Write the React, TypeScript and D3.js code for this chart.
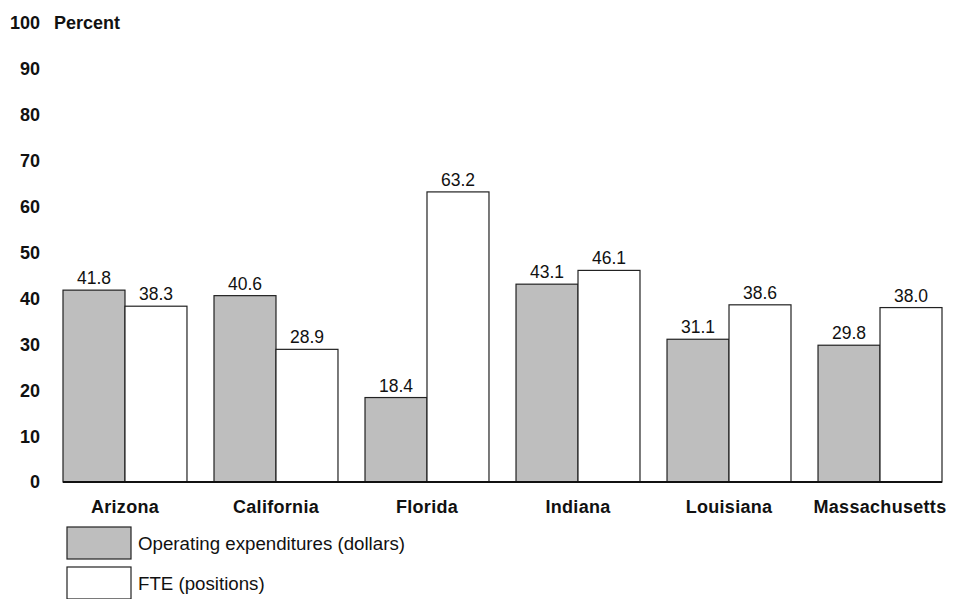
import React from "react";
import * as d3 from "d3";

const categories = ["Arizona", "California", "Florida", "Indiana", "Louisiana", "Massachusetts"];
const operating = [41.8, 40.6, 18.4, 43.1, 31.1, 29.8];
const fte = [38.3, 28.9, 63.2, 46.1, 38.6, 38.0];
const yTicks = [0, 10, 20, 30, 40, 50, 60, 70, 80, 90, 100];
const seriesNames = ["Operating expenditures (dollars)", "FTE (positions)"];
const seriesColors = ["#bebebe", "#ffffff"];

export default function App() {
  const W = 962, H = 599;
  const font = "'Liberation Sans', Arial, Helvetica, sans-serif";
  const y = d3.scaleLinear().domain([0, 100]).range([482, 23]);
  const x = d3.scaleBand<string>().domain(categories).range([63, 942]).paddingInner(0.179).paddingOuter(0);
  const inner = d3.scaleBand<number>().domain([0, 1]).range([0, x.bandwidth()]);
  const series = [operating, fte];
  return (
    <svg width={W} height={H} style={{ position: "absolute", left: 0, top: 0, background: "#fff" }} fontFamily={font}>
      <rect x={0} y={0} width={W} height={H} fill="#fff" />
      {yTicks.map((t) => (
        <text key={t} x={40} y={y(t)} dy="0.36em" textAnchor="end" fontSize={18} fontWeight="bold" fill="#111">
          {t}
        </text>
      ))}
      <text x={54} y={y(100)} dy="0.36em" fontSize={18} fontWeight="bold" fill="#111">Percent</text>
      {categories.map((c, i) => (
        <g key={c}>
          {series.map((s, j) => {
            const bx = (x(c) as number) + (inner(j) as number);
            const v = s[i];
            return (
              <g key={j}>
                <rect x={bx} y={y(v)} width={inner.bandwidth()} height={y(0) - y(v)} fill={seriesColors[j]} stroke="#222" strokeWidth={1.2} />
                <text x={bx + inner.bandwidth() / 2} y={y(v) - 6} textAnchor="middle" fontSize={17.5} fill="#111">
                  {v.toFixed(1)}
                </text>
              </g>
            );
          })}
          <text x={(x(c) as number) + x.bandwidth() / 2} y={513} textAnchor="middle" fontSize={18} fontWeight="bold" letterSpacing={0.3} fill="#111">
            {c}
          </text>
        </g>
      ))}
      <line x1={63} x2={942} y1={y(0)} y2={y(0)} stroke="#111" strokeWidth={2.2} />
      {seriesNames.map((n, j) => (
        <g key={n}>
          <rect x={67} y={527 + j * 40} width={64} height={32} fill={seriesColors[j]} stroke="#222" strokeWidth={1.2} />
          <text x={138} y={543 + j * 40} dy="0.35em" fontSize={18.7} fill="#111">{n}</text>
        </g>
      ))}
    </svg>
  );
}
